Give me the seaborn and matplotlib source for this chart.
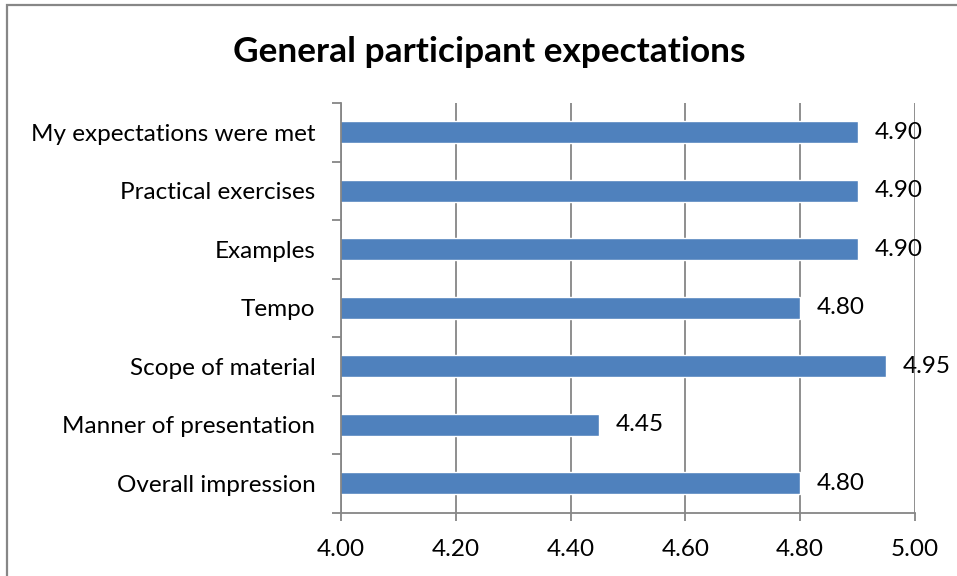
import matplotlib
matplotlib.use("Agg")
import matplotlib.pyplot as plt
from matplotlib.patches import Rectangle
from matplotlib.ticker import FixedLocator
import seaborn as sns
import pandas as pd

# Survey results: average rating per question (scale up to 5)
categories = [
    "My expectations were met",
    "Practical exercises",
    "Examples",
    "Tempo",
    "Scope of material",
    "Manner of presentation",
    "Overall impression",
]
scores = [4.90, 4.90, 4.90, 4.80, 4.95, 4.45, 4.80]
x_ticks = [4.00, 4.20, 4.40, 4.60, 4.80, 5.00]
title = "General participant expectations"

BAR_COLOR = "#4F81BD"
GRID_COLOR = "#868686"
FONT = ["Lato", "DejaVu Sans"]
LABEL_SIZE = 17.5

sns.set_theme(style="white")
plt.rcParams["font.family"] = FONT

df = pd.DataFrame({"question": categories, "score": scores})

fig = plt.figure(figsize=(9.57, 5.76), dpi=100)
ax = fig.add_axes([341 / 957, 1 - 512.5 / 576, 574 / 957, 409.5 / 576])

sns.barplot(data=df, x="score", y="question", orient="h", color=BAR_COLOR,
            width=0.37, saturation=1, ax=ax, zorder=3)

ax.set_xlim(x_ticks[0], x_ticks[-1])
ax.set_ylim(len(categories) - 0.5, -0.5)
ax.set_xticks(x_ticks)
ax.set_xticklabels([f"{t:.2f}" for t in x_ticks])
ax.set_xlabel("")
ax.set_ylabel("")

# vertical gridlines, ticks at category boundaries on the y axis
ax.grid(axis="x", color=GRID_COLOR, linewidth=1.3, zorder=0)
ax.grid(axis="y", visible=False)
ax.yaxis.set_minor_locator(FixedLocator([i - 0.5 for i in range(len(categories) + 1)]))
ax.tick_params(axis="y", which="major", length=0, pad=18.5, labelsize=LABEL_SIZE, labelcolor="black")
ax.tick_params(axis="y", which="minor", length=6.5, width=1.3, color=GRID_COLOR, left=True)
ax.tick_params(axis="x", which="major", length=6, width=1.3, color=GRID_COLOR, bottom=True,
               pad=13, labelsize=LABEL_SIZE, labelcolor="black")

for side in ("top", "right"):
    ax.spines[side].set_visible(False)
for side in ("left", "bottom"):
    ax.spines[side].set_color(GRID_COLOR)
    ax.spines[side].set_linewidth(1.3)
    ax.spines[side].set_zorder(4)

for container in ax.containers:
    ax.bar_label(container, fmt="%.2f", padding=12, fontsize=LABEL_SIZE, color="black")

fig.text(489 / 957, 1 - 62 / 576, title, ha="center", va="baseline",
         fontsize=25.4, fontweight="bold", color="black")

# chart-area border
fig.patches.append(Rectangle((7 / 957, -0.1), 1.2, 1.1 - 5 / 576,
                             transform=fig.transFigure, fill=False,
                             edgecolor="#878787", linewidth=1.6))

fig.savefig("out.png", dpi=100, facecolor="white")
